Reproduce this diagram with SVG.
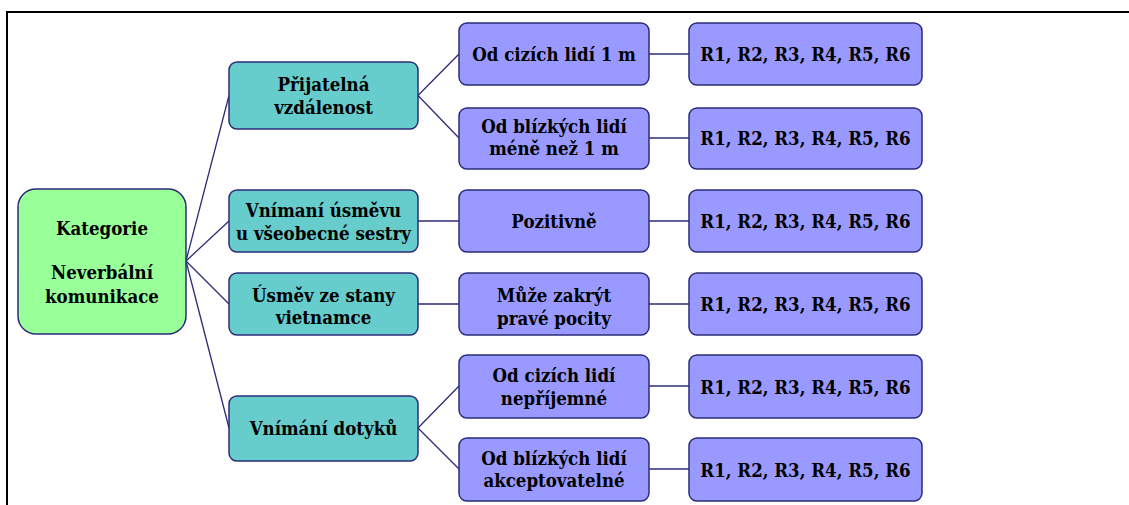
<svg xmlns="http://www.w3.org/2000/svg" width="1129" height="505" viewBox="0 0 1129 505">
<style>
.box{stroke:#2b2b7a;stroke-width:1.5}
.root{fill:#99ff99}
.l1{fill:#66cccc}
.l2{fill:#9999ff}
.t{font-family:'DejaVu Serif Condensed','DejaVu Serif',serif;font-weight:bold;font-size:18.5px;fill:#000;text-anchor:middle}
.c{stroke:#2b2b7a;stroke-width:1.3;fill:none}
.frame{stroke:#000;stroke-width:2;fill:none}
</style>
<rect width="1129" height="505" fill="#fff"/>
<path class="frame" d="M7,505 V12 H1129"/>
<g id="connectors">
<line class="c" x1="186" y1="261" x2="229" y2="95.5"/>
<line class="c" x1="186" y1="261" x2="229" y2="221"/>
<line class="c" x1="186" y1="261" x2="229" y2="304"/>
<line class="c" x1="186" y1="261" x2="229" y2="428"/>
<line class="c" x1="418" y1="95.5" x2="459" y2="54"/>
<line class="c" x1="418" y1="95.5" x2="459" y2="138"/>
<line class="c" x1="418" y1="221" x2="459" y2="221"/>
<line class="c" x1="418" y1="304" x2="459" y2="304"/>
<line class="c" x1="418" y1="428" x2="459" y2="386"/>
<line class="c" x1="418" y1="428" x2="459" y2="469"/>
<line class="c" x1="649" y1="54" x2="689" y2="54"/>
<line class="c" x1="649" y1="138" x2="689" y2="138"/>
<line class="c" x1="649" y1="221" x2="689" y2="221"/>
<line class="c" x1="649" y1="304" x2="689" y2="304"/>
<line class="c" x1="649" y1="386" x2="689" y2="386"/>
<line class="c" x1="649" y1="469" x2="689" y2="469"/>
</g>
<g id="root">
<rect class="box root" x="18" y="189" width="168" height="145" rx="18"/>
<text class="t" x="102" y="235">Kategorie</text>
<text class="t" x="102" y="279">Neverbální</text>
<text class="t" x="102" y="303">komunikace</text>
</g>
<g id="n1">
<rect class="box l1" x="229" y="62" width="189" height="67" rx="8"/>
<text class="t" x="323.5" y="91">Přijatelná</text>
<text class="t" x="323.5" y="114">vzdálenost</text>
</g>
<g id="n2">
<rect class="box l1" x="229" y="190" width="189" height="62" rx="8"/>
<text class="t" x="323.5" y="217">Vnímaní úsměvu</text>
<text class="t" x="323.5" y="240">u všeobecné sestry</text>
</g>
<g id="n3">
<rect class="box l1" x="229" y="273" width="189" height="62" rx="8"/>
<text class="t" x="323.5" y="302">Úsměv ze stany</text>
<text class="t" x="323.5" y="324">vietnamce</text>
</g>
<g id="n4">
<rect class="box l1" x="229" y="396" width="189" height="65" rx="8"/>
<text class="t" x="323.5" y="435">Vnímání dotyků</text>
</g>
<g id="n1a">
<rect class="box l2" x="459" y="23" width="190" height="62" rx="8"/>
<text class="t" x="554" y="61">Od cizích lidí 1 m</text>
</g>
<g id="n1b">
<rect class="box l2" x="459" y="108" width="190" height="61" rx="8"/>
<text class="t" x="554" y="133">Od blízkých lidí</text>
<text class="t" x="554" y="155">méně než 1 m</text>
</g>
<g id="n2a">
<rect class="box l2" x="459" y="190" width="190" height="62" rx="8"/>
<text class="t" x="554" y="228">Pozitivně</text>
</g>
<g id="n3a">
<rect class="box l2" x="459" y="273" width="190" height="62" rx="8"/>
<text class="t" x="554" y="302">Může zakrýt</text>
<text class="t" x="554" y="325">pravé pocity</text>
</g>
<g id="n4a">
<rect class="box l2" x="459" y="355" width="190" height="63" rx="8"/>
<text class="t" x="554" y="382">Od cizích lidí</text>
<text class="t" x="554" y="405">nepříjemné</text>
</g>
<g id="n4b">
<rect class="box l2" x="459" y="438" width="190" height="63" rx="8"/>
<text class="t" x="554" y="465">Od blízkých lidí</text>
<text class="t" x="554" y="487">akceptovatelné</text>
</g>
<g id="r1"><rect class="box l2" x="689" y="23" width="233" height="62" rx="8"/><text class="t" x="805.5" y="61">R1, R2, R3, R4, R5, R6</text></g>
<g id="r2"><rect class="box l2" x="689" y="108" width="233" height="61" rx="8"/><text class="t" x="805.5" y="145">R1, R2, R3, R4, R5, R6</text></g>
<g id="r3"><rect class="box l2" x="689" y="190" width="233" height="62" rx="8"/><text class="t" x="805.5" y="228">R1, R2, R3, R4, R5, R6</text></g>
<g id="r4"><rect class="box l2" x="689" y="273" width="233" height="62" rx="8"/><text class="t" x="805.5" y="311">R1, R2, R3, R4, R5, R6</text></g>
<g id="r5"><rect class="box l2" x="689" y="355" width="233" height="63" rx="8"/><text class="t" x="805.5" y="394">R1, R2, R3, R4, R5, R6</text></g>
<g id="r6"><rect class="box l2" x="689" y="438" width="233" height="63" rx="8"/><text class="t" x="805.5" y="477">R1, R2, R3, R4, R5, R6</text></g>
</svg>
